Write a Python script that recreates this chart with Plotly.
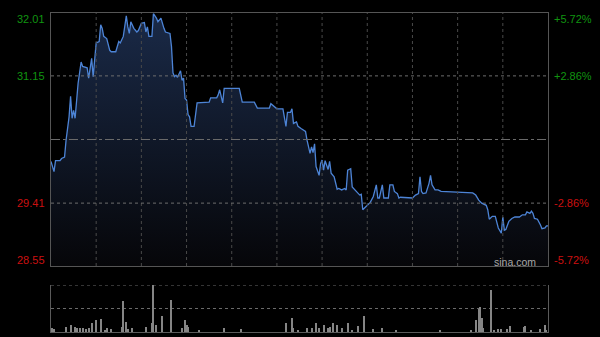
import plotly.graph_objects as go

# ---- price series (minutes since 09:30 HK session, 330 trading minutes) ----
minutes = [0, 2, 3, 6, 7, 9, 10, 12, 13, 14, 15, 16, 18, 20, 21, 24, 25, 27, 28, 29,
           30, 32, 33, 34, 35, 37, 39, 40, 43, 45, 46, 48, 50, 51, 52, 53, 55, 57, 58, 60,
           62, 63, 64, 65, 67, 68, 70, 71, 73, 75, 76, 79, 80, 81, 82, 83, 84, 86, 87, 88,
           89, 90, 91, 92, 93, 95, 97, 105, 106, 110, 111, 112, 113, 114, 115, 125, 127, 135, 137, 145,
           146, 148, 149, 150, 154, 156, 157, 159, 160, 161, 163, 164, 166, 168, 169, 170, 172, 173, 174, 175,
           176, 178, 179, 180, 181, 182, 184, 185, 186, 188, 190, 191, 193, 195, 196, 197, 199, 200, 201, 203,
           205, 206, 207, 209, 211, 212, 214, 216, 217, 218, 220, 221, 224, 225, 227, 228, 230, 231, 232, 240,
           242, 244, 245, 246, 247, 249, 251, 252, 253, 255, 257, 259, 280, 282, 284, 286, 289, 290, 291, 293,
           295, 296, 297, 299, 300, 301, 302, 304, 306, 308, 311, 313, 315, 316, 318, 319, 320, 321, 323, 325,
           326, 328, 329, 330]
prices = [29.98, 29.84, 29.99, 29.99, 30.02, 30.04, 30.27, 30.59, 30.87, 30.57, 30.68, 30.57, 31.05, 31.34, 31.28, 31.26, 31.12, 31.39, 31.14, 31.37,
          31.60, 31.62, 31.85, 31.80, 31.69, 31.66, 31.50, 31.48, 31.48, 31.62, 31.60, 31.69, 31.97, 31.82, 31.73, 31.89, 31.80, 31.75, 31.77, 31.87,
          31.88, 31.75, 31.82, 31.69, 31.69, 32.00, 31.94, 31.89, 31.94, 31.80, 31.75, 31.73, 31.55, 31.19, 31.14, 31.16, 31.13, 31.22, 31.09, 31.12,
          30.84, 30.82, 30.62, 30.59, 30.46, 30.46, 30.78, 30.79, 30.85, 30.85, 30.89, 30.96, 30.86, 30.78, 30.98, 30.98, 30.79, 30.79, 30.71, 30.71,
          30.77, 30.74, 30.72, 30.70, 30.70, 30.46, 30.65, 30.65, 30.70, 30.50, 30.52, 30.46, 30.43, 30.41, 30.39, 30.27, 30.09, 30.18, 30.10, 30.22,
          29.91, 29.79, 29.95, 30.00, 29.86, 29.99, 29.87, 29.98, 29.82, 29.77, 29.60, 29.61, 29.59, 29.61, 29.59, 29.86, 29.88, 29.63, 29.61, 29.57,
          29.52, 29.53, 29.32, 29.36, 29.41, 29.42, 29.50, 29.66, 29.48, 29.48, 29.66, 29.48, 29.48, 29.66, 29.66, 29.57, 29.54, 29.48, 29.49, 29.48,
          29.52, 29.54, 29.77, 29.57, 29.54, 29.55, 29.68, 29.79, 29.66, 29.59, 29.59, 29.57, 29.55, 29.52, 29.45, 29.41, 29.38, 29.32, 29.19, 29.23,
          29.23, 29.16, 29.07, 29.00, 29.22, 29.04, 29.05, 29.16, 29.20, 29.22, 29.22, 29.25, 29.25, 29.29, 29.27, 29.30, 29.27, 29.20, 29.19, 29.11,
          29.06, 29.07, 29.10, 29.10]

# ---- volume (thousand shares) ----
vol_minutes = [1, 2, 10, 13, 16, 17, 19, 21, 23, 25, 27, 30, 33, 36, 37, 40, 47, 48, 50, 51,
               54, 63, 67, 68, 70, 74, 80, 87, 89, 90, 91, 98, 115, 126, 156, 160, 161, 164, 170, 173,
               176, 178, 181, 184, 185, 187, 190, 193, 197, 200, 204, 208, 214, 220, 229, 258, 279, 282, 284, 285,
               286, 287, 292, 294, 297, 299, 303, 305, 314, 315, 319, 325, 328, 329]
vol_values = [43, 27, 53, 70, 47, 37, 37, 37, 27, 37, 87, 120, 130, 20, 37, 27, 53, 310, 103, 27,
              37, 53, 87, 480, 70, 163, 320, 37, 120, 70, 53, 20, 43, 27, 93, 143, 37, 20, 37, 43,
              87, 37, 70, 37, 53, 87, 70, 37, 93, 20, 60, 160, 27, 37, 20, 20, 20, 120, 227, 247,
              137, 37, 420, 20, 27, 27, 27, 65, 47, 60, 20, 27, 70, 20]

# ---- axis labels ----
prev_close = 30.28
price_ticks = [32.01, 31.15, 29.41, 28.55]
pct_ticks = ["+5.72%", "+2.86%", "-2.86%", "-5.72%"]
grid_minutes = [30, 60, 90, 120, 150, 180, 210, 240, 270, 300]
VOL_MAX = 470

FONT = "Arial, Liberation Sans, sans-serif"
GREEN = "#109410"
RED = "#cc1010"

fig = go.Figure()
fig.add_trace(go.Scatter(
    x=minutes, y=prices, mode="lines",
    line=dict(color="#4d84d6", width=1.3),
    fill="tozeroy",
    fillgradient=dict(type="vertical",
                      colorscale=[[0, "rgb(6,6,9)"], [1, "rgb(26,42,72)"]],
                      start=28.55, stop=32.01),
    xaxis="x", yaxis="y", hoverinfo="skip", showlegend=False))

fig.add_trace(go.Bar(
    x=vol_minutes, y=vol_values, width=0.7,
    marker=dict(color="#858585", line=dict(width=0)),
    xaxis="x2", yaxis="y2", hoverinfo="skip", showlegend=False))

xdom = [51 / 600, 548 / 600]
shapes = []
for m in grid_minutes:
    shapes.append(dict(type="line", xref="x", yref="y", x0=m, x1=m, y0=28.55, y1=32.01,
                       line=dict(color="#4a4a4a", width=1, dash="dot"), layer="above"))
for p in [31.15, 29.41]:
    shapes.append(dict(type="line", xref="x", yref="y", x0=0, x1=330, y0=p, y1=p,
                       line=dict(color="#6e6e6e", width=1, dash="dot"), layer="above"))
shapes.append(dict(type="line", xref="x", yref="y", x0=0, x1=330, y0=prev_close, y1=prev_close,
                   line=dict(color="#6a6a6a", width=1, dash="dashdot"), layer="above"))
for v in [VOL_MAX, VOL_MAX / 2]:
    shapes.append(dict(type="line", xref="x2", yref="y2", x0=0, x1=330, y0=v, y1=v,
                       line=dict(color="#6a6a6a", width=1, dash="dot"), layer="below"))

annotations = []
shifts = [-6, 0, 0, 6]
for i, (p, t) in enumerate(zip(price_ticks, pct_ticks)):
    col = GREEN if p > prev_close else RED
    annotations.append(dict(x=47 / 600, xref="paper", y=p, yref="y", yshift=shifts[i],
                            text=f"{p:.2f}", showarrow=False, xanchor="right", yanchor="middle",
                            font=dict(family=FONT, size=11, color=col)))
    annotations.append(dict(x=552 / 600, xref="paper", y=p, yref="y", yshift=shifts[i],
                            text=t, showarrow=False, xanchor="left", yanchor="middle",
                            font=dict(family=FONT, size=11, color=col)))
annotations.append(dict(x=538 / 600, xref="paper", y=1 - 262 / 337, yref="paper",
                        text="sina.com", showarrow=False, xanchor="right", yanchor="middle",
                        font=dict(family=FONT, size=10.5, color="#a8a8a8")))

fig.update_layout(
    width=600, height=337, margin=dict(l=0, r=0, t=0, b=0),
    paper_bgcolor="#000000", plot_bgcolor="#000000",
    bargap=0,
    xaxis=dict(domain=xdom, range=[0, 330], showgrid=False, zeroline=False,
               showticklabels=False, ticks="", showline=True, mirror=True,
               linecolor="#555555", linewidth=1),
    yaxis=dict(domain=[1 - 266 / 337, 1 - 13 / 337], range=[28.55, 32.01], showgrid=False,
               zeroline=False, showticklabels=False, ticks="", showline=True, mirror=True,
               linecolor="#555555", linewidth=1),
    xaxis2=dict(domain=xdom, range=[0, 330], anchor="y2", showgrid=False, zeroline=False,
                showticklabels=False, ticks="", showline=True, linecolor="#5a5a5a", linewidth=1),
    yaxis2=dict(domain=[1 - 332 / 337, 1 - 285 / 337], range=[0, VOL_MAX], anchor="x2",
                showgrid=False, zeroline=False, showticklabels=False, ticks="",
                showline=True, mirror=True, linecolor="#5a5a5a", linewidth=1),
    shapes=shapes, annotations=annotations,
)

fig.write_html("out.html")
